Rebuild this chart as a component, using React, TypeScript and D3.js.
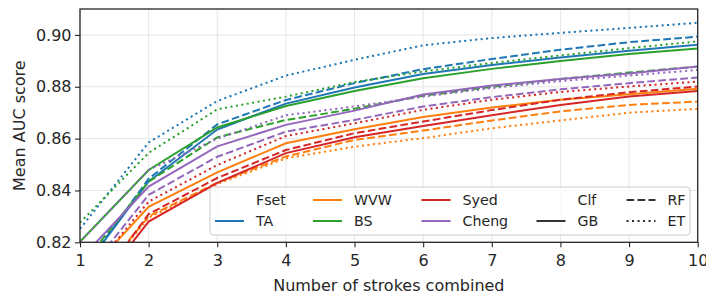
import React, { useEffect, useRef } from 'react'
import * as d3 from 'd3'

// Number of strokes combined (x axis)
const strokes = [1, 2, 3, 4, 5, 6, 7, 8, 9, 10]
const yTicks = [0.82, 0.84, 0.86, 0.88, 0.9]

const featureSets = ['TA', 'WVW', 'BS', 'Syed', 'Cheng']
const fsetColors = ['#1f77b4', '#ff7f0e', '#2ca02c', '#d62728', '#9467bd']
const classifiers = ['GB', 'RF', 'ET']

// Mean AUC per feature set / classifier
const taGB = [0.808, 0.8435, 0.8635, 0.8735, 0.8797, 0.8849, 0.8884, 0.8913, 0.8939, 0.8962]
const taRF = [0.808, 0.8445, 0.8655, 0.8749, 0.8814, 0.8868, 0.8907, 0.8943, 0.8972, 0.8993]
const taET = [0.8252, 0.8585, 0.8745, 0.8843, 0.8904, 0.896, 0.8988, 0.9008, 0.9027, 0.9047]
const wvwGB = [0.8049, 0.8337, 0.847, 0.8582, 0.8636, 0.8683, 0.872, 0.875, 0.8771, 0.8792]
const wvwRF = [0.798, 0.83, 0.843, 0.8531, 0.8595, 0.8631, 0.867, 0.8705, 0.873, 0.8743]
const wvwET = [0.797, 0.8295, 0.8425, 0.8524, 0.8569, 0.8602, 0.864, 0.867, 0.87, 0.8715]
const bsGB = [0.8202, 0.8479, 0.8643, 0.8726, 0.8784, 0.8833, 0.8869, 0.8899, 0.8926, 0.8948]
const bsRF = [0.8104, 0.8434, 0.8605, 0.8672, 0.8715, 0.8765, 0.88, 0.883, 0.8855, 0.8878]
const bsET = [0.8276, 0.8545, 0.8713, 0.8762, 0.8818, 0.8859, 0.8892, 0.8921, 0.8949, 0.8975]
const syedGB = [0.794, 0.828, 0.8429, 0.8544, 0.8605, 0.8649, 0.869, 0.873, 0.8762, 0.8784]
const syedRF = [0.7947, 0.8309, 0.8448, 0.8556, 0.8621, 0.8666, 0.871, 0.875, 0.8779, 0.8801]
const syedET = [0.8037, 0.8357, 0.8498, 0.861, 0.8659, 0.8711, 0.875, 0.878, 0.8801, 0.882]
const chengGB = [0.8134, 0.8415, 0.857, 0.8653, 0.8708, 0.877, 0.8805, 0.883, 0.8851, 0.8878]
const chengRF = [0.805, 0.8383, 0.853, 0.8627, 0.8672, 0.8724, 0.876, 0.879, 0.8814, 0.8836]
const chengET = [0.8202, 0.8479, 0.86, 0.869, 0.8724, 0.8762, 0.8795, 0.8822, 0.8843, 0.8865]

const seriesValues = [
  [taGB, taRF, taET],
  [wvwGB, wvwRF, wvwET],
  [bsGB, bsRF, bsET],
  [syedGB, syedRF, syedET],
  [chengGB, chengRF, chengET],
]

const dashes = ['none', '7.7,3.3', '2.1,3.4']

const W = 706
const H = 295
const M = { left: 80, right: 8.3, top: 9, bottom: 52.7 }
const FONT = 'DejaVu Sans, sans-serif'
const TEXT = '#262626'
const AXIS_FS = '16px'
const LEGEND_FS = '14.2px'

export default function App() {
  const ref = useRef<SVGSVGElement | null>(null)

  useEffect(() => {
    if (!ref.current) return
    const svg = d3.select(ref.current)
    svg.selectAll('*').remove()

    const x = d3.scaleLinear().domain([1, 10]).range([M.left, W - M.right])
    const y = d3.scaleLinear().domain([0.82, 0.91]).range([H - M.bottom, M.top])

    svg
      .append('defs')
      .append('clipPath')
      .attr('id', 'plot-clip')
      .append('rect')
      .attr('x', M.left)
      .attr('y', M.top)
      .attr('width', W - M.left - M.right)
      .attr('height', H - M.top - M.bottom)

    // grid
    const grid = svg.append('g').attr('stroke', '#e6e6e6').attr('stroke-width', 1)
    grid
      .selectAll('line.gx')
      .data(strokes)
      .join('line')
      .attr('x1', (d) => x(d))
      .attr('x2', (d) => x(d))
      .attr('y1', M.top)
      .attr('y2', H - M.bottom)
    grid
      .selectAll('line.gy')
      .data(yTicks)
      .join('line')
      .attr('x1', M.left)
      .attr('x2', W - M.right)
      .attr('y1', (d) => y(d))
      .attr('y2', (d) => y(d))

    // lines
    const line = d3
      .line<number>()
      .x((_d, i) => x(strokes[i]))
      .y((d) => y(d))

    const plot = svg.append('g').attr('clip-path', 'url(#plot-clip)')
    seriesValues.forEach((group, fi) => {
      group.forEach((vals, ci) => {
        plot
          .append('path')
          .datum(vals)
          .attr('d', line)
          .attr('fill', 'none')
          .attr('stroke', fsetColors[fi])
          .attr('stroke-width', 2)
          .attr('stroke-dasharray', dashes[ci])
      })
    })

    // axes
    const xAxis = svg
      .append('g')
      .attr('transform', `translate(0,${H - M.bottom})`)
      .call(d3.axisBottom(x).tickValues(strokes).tickFormat(d3.format('d')).tickSize(5).tickPadding(7))
    const yAxis = svg
      .append('g')
      .attr('transform', `translate(${M.left},0)`)
      .call(d3.axisLeft(y).tickValues(yTicks).tickFormat(d3.format('.2f')).tickSize(5).tickPadding(3.5))
    ;[xAxis, yAxis].forEach((ax) => {
      ax.select('.domain').remove()
      ax.selectAll('line').attr('stroke', TEXT).attr('stroke-width', 1.1)
      ax.selectAll('text').attr('fill', TEXT).style('font-size', AXIS_FS).style('font-family', FONT)
    })

    // spines
    svg
      .append('rect')
      .attr('x', M.left)
      .attr('y', M.top)
      .attr('width', W - M.left - M.right)
      .attr('height', H - M.top - M.bottom)
      .attr('fill', 'none')
      .attr('stroke', TEXT)
      .attr('stroke-width', 1.3)

    // axis labels
    svg
      .append('text')
      .attr('x', (M.left + W - M.right) / 2)
      .attr('y', 291)
      .attr('text-anchor', 'middle')
      .attr('fill', TEXT)
      .style('font-size', AXIS_FS)
      .style('font-family', FONT)
      .text('Number of strokes combined')
    svg
      .append('text')
      .attr('transform', `translate(25,${(M.top + H - M.bottom) / 2}) rotate(-90)`)
      .attr('text-anchor', 'middle')
      .attr('fill', TEXT)
      .style('font-size', AXIS_FS)
      .style('font-family', FONT)
      .text('Mean AUC score')

    // legend
    const legendItems = [
      { label: 'Fset', color: null, dash: 'none' },
      { label: featureSets[0], color: fsetColors[0], dash: 'none' },
      { label: featureSets[1], color: fsetColors[1], dash: 'none' },
      { label: featureSets[2], color: fsetColors[2], dash: 'none' },
      { label: featureSets[3], color: fsetColors[3], dash: 'none' },
      { label: featureSets[4], color: fsetColors[4], dash: 'none' },
      { label: 'Clf', color: null, dash: 'none' },
      { label: classifiers[0], color: '#333333', dash: dashes[0] },
      { label: classifiers[1], color: '#333333', dash: dashes[1] },
      { label: classifiers[2], color: '#333333', dash: dashes[2] },
    ]
    const colX = [215, 313, 421.5, 536.5, 626.5]
    const rowY = [200, 221]
    const lg = svg.append('g')
    lg.append('rect')
      .attr('x', 210)
      .attr('y', 187)
      .attr('width', 480)
      .attr('height', 48)
      .attr('rx', 3)
      .attr('fill', 'white')
      .attr('fill-opacity', 0.8)
      .attr('stroke', '#cccccc')
      .attr('stroke-width', 1)
    legendItems.forEach((it, i) => {
      const cx = colX[Math.floor(i / 2)]
      const cy = rowY[i % 2]
      if (it.color) {
        lg.append('line')
          .attr('x1', cx)
          .attr('x2', cx + 29)
          .attr('y1', cy)
          .attr('y2', cy)
          .attr('stroke', it.color)
          .attr('stroke-width', 2)
          .attr('stroke-dasharray', it.dash)
      }
      lg.append('text')
        .attr('x', cx + 41)
        .attr('y', cy)
        .attr('dy', '0.36em')
        .attr('fill', TEXT)
        .style('font-size', LEGEND_FS)
        .style('font-family', FONT)
        .text(it.label)
    })
  }, [])

  return (
    <svg
      ref={ref}
      width={W}
      height={H}
      style={{ position: 'absolute', left: 0, top: 0, display: 'block', background: 'white' }}
    />
  )
}
